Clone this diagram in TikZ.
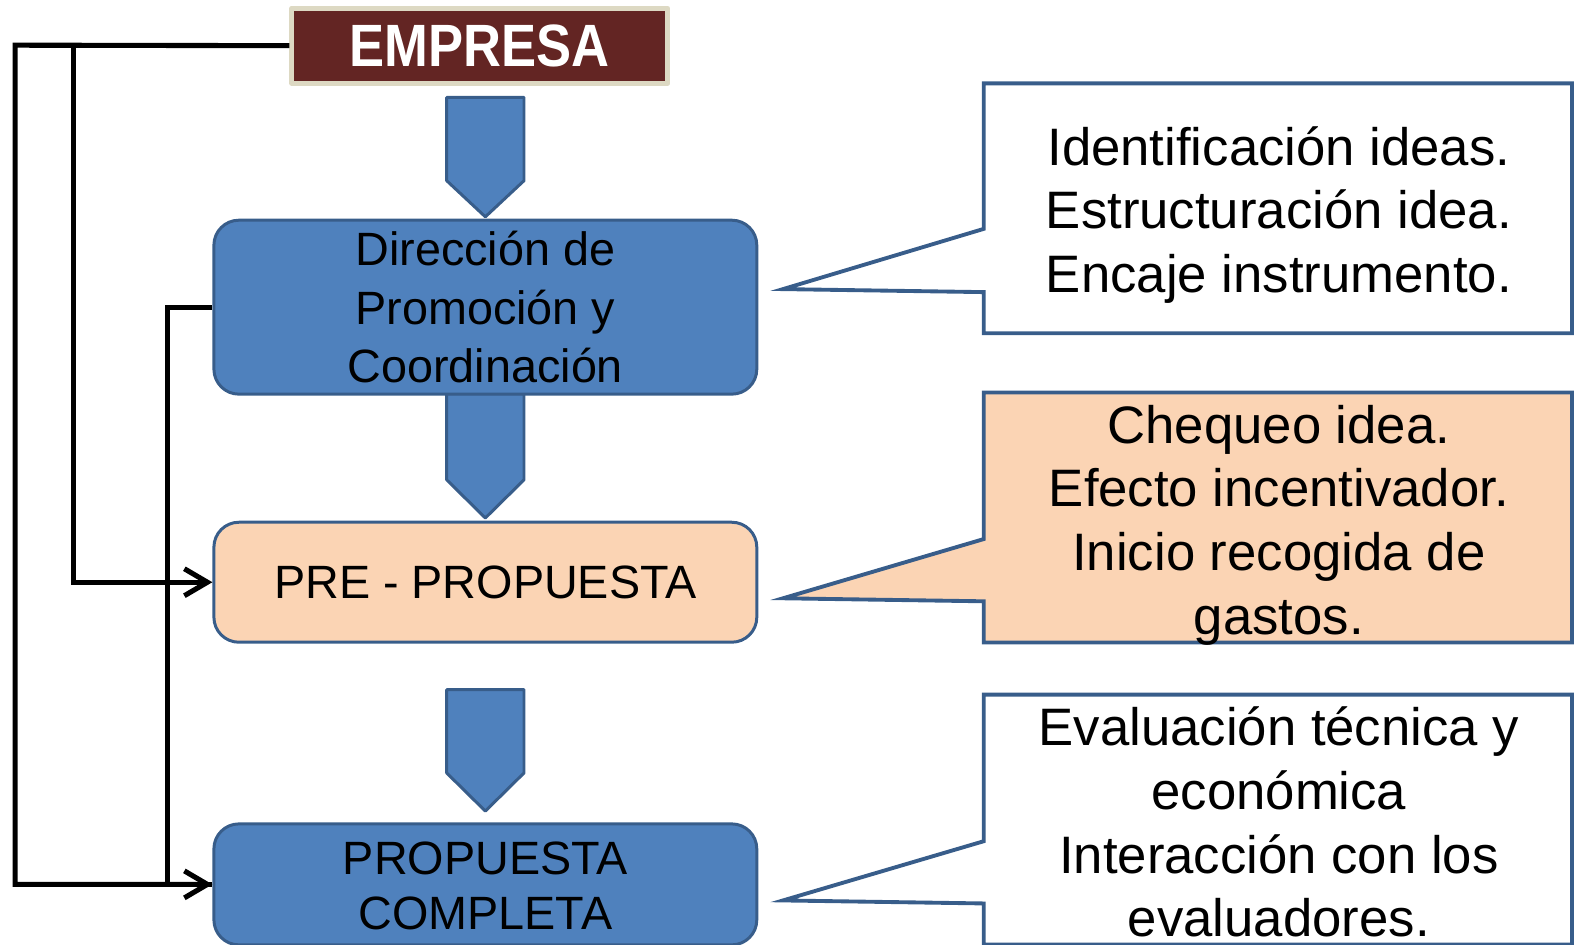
\documentclass[tikz,border=0pt]{standalone}
\usepackage{fontspec}
\setmainfont{Liberation Sans}
\usetikzlibrary{arrows.meta}
\definecolor{boxblue}{HTML}{4F81BD}
\definecolor{edgeblue}{HTML}{385D8A}
\definecolor{peach}{HTML}{FBD4B4}
\definecolor{wine}{HTML}{632523}
\definecolor{beige}{HTML}{DDD9C3}

\begin{document}
\begin{tikzpicture}[line join=round,x=0.02008cm,y=-0.02008cm,
  stage/.style={draw=edgeblue,line width=1.7pt,rounded corners=0.5cm,inner sep=0pt,
    minimum width=10.86cm,align=center,font=\fontsize{26.6}{33.3}\selectfont},
  note/.style={draw=edgeblue,line width=2.2pt,line join=miter},
  notetext/.style={align=center,font=\fontsize{30}{36.2}\selectfont},
  flow/.style={draw=edgeblue,fill=boxblue,line width=1.7pt},
  link/.style={line width=2.9pt,line join=miter,-{Straight Barb[length=4.6mm,width=5.4mm]}}]
\useasboundingbox (0,0) rectangle (1568,941);
\clip (0,0) rectangle (1568,941);
% block arrows between the stages
\foreach \t/\s/\p in {97/180/216, 392/478/516, 687/770/808}
  \draw[flow] (445,\t) -- (522,\t) -- (522,\s) -- (483.5,\p) -- (445,\s) -- cycle;
% stages
\node[draw=beige,fill=wine,line width=2.8pt,minimum width=7.52cm,minimum height=1.5cm,
  text=white,font=\fontsize{34}{40}\selectfont\bfseries] (empresa) at (478,45.5)
  {\scalebox{0.88}[1]{EMPRESA}};
\node[stage,fill=boxblue,minimum height=3.48cm] (direccion) at (483.5,306)
  {Dirección de\\Promoción y\\Coordinación};
\node[stage,fill=peach,minimum height=2.4cm] (pre) at (483.5,580) {PRE - PROPUESTA};
\node[stage,fill=boxblue,minimum height=2.42cm] (completa) at (483.5,881)
  {\raisebox{-0.13cm}[\height][\depth]{\def\arraystretch{0.94}\begin{tabular}{@{}c@{}}PROPUESTA\\COMPLETA\end{tabular}}};
% callouts
\draw[note,fill=white] (980,83) -- (1566,83) -- (1566,332) -- (980,332) -- (980,291)
  -- (780,288) -- (980,228) -- cycle;
\node[notetext] (ideas) at (1274,214) {Identificación ideas.\\Estructuración idea.\\Encaje instrumento.};
\draw[note,fill=peach] (980,391) -- (1566,391) -- (1566,640) -- (980,640) -- (980,599)
  -- (780,596) -- (980,537) -- cycle;
\node[notetext] (chequeo) at (1274,523) {Chequeo idea.\\Efecto incentivador.\\Inicio recogida de\\gastos.};
\draw[note,fill=white] (980,692) -- (1566,692) -- (1566,941) -- (980,941) -- (980,900)
  -- (780,897) -- (980,838) -- cycle;
\node[notetext] (evaluacion) at (1274,819) {Evaluación técnica y\\económica\\Interacción con los\\evaluadores.};
% connectors
\coordinate (outer) at (15,45);
\coordinate (inner) at (73,45);
\coordinate (mid) at (167,306);
\draw[link] (empresa.west) -- (outer) |- (completa.west);
\draw[link] (inner) |- (pre.west);
\draw[line width=2.9pt,line join=miter] (direccion.west) -- (mid) |- (completa.west);
\end{tikzpicture}
\end{document}
